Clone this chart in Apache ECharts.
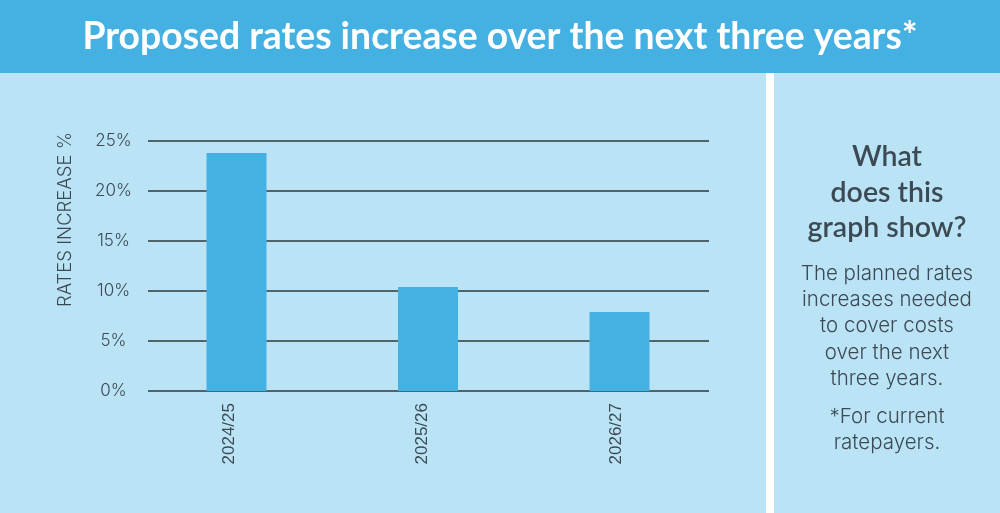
<!DOCTYPE html>
<html>
<head>
<meta charset="utf-8">
<style>
html, body { margin: 0; padding: 0; background: #ffffff; }
#main { width: 1000px; height: 513px; }
</style>
<script src="https://cdn.jsdelivr.net/npm/echarts@6/dist/echarts.min.js"></script>
</head>
<body>
<div id="main"></div>
<script>
var categories = ['2024/25', '2025/26', '2026/27'];
var ratesIncrease = [23.8, 10.4, 7.9];
var titleText = 'Proposed rates increase over the next three years*';
var yAxisName = 'RATES INCREASE %';
var sideHeading = ['What', 'does this', 'graph show?'];
var sideBody = ['The planned rates', 'increases needed', 'to cover costs', 'over the next', 'three years.'];
var sideNote = ['*For current', 'ratepayers.'];

var textColor = '#3c4a54';
var lineColor = '#2e3a3a';
var myChart = echarts.init(document.getElementById('main'));

// side panel lines, one text element each so line spacing follows the picture
var sideLines = [];
sideHeading.forEach(function (t, i) {
    sideLines.push({ type: 'text', x: 887, y: 157 + i * 35.5, style: { text: t, fill: textColor, font: '600 28.5px Lato', align: 'center', verticalAlign: 'middle' } });
});
sideBody.forEach(function (t, i) {
    sideLines.push({ type: 'text', x: 887, y: 273.5 + i * 26.3, style: { text: t, fill: textColor, font: '300 20.5px Inter', align: 'center', verticalAlign: 'middle' } });
});
sideNote.forEach(function (t, i) {
    sideLines.push({ type: 'text', x: 887, y: 416.5 + i * 26.5, style: { text: t, fill: textColor, font: '300 20.5px Inter', align: 'center', verticalAlign: 'middle' } });
});

var option = {
    animation: false,
    backgroundColor: '#ffffff',
    graphic: [
        { type: 'rect', z: -10, shape: { x: 0, y: 0, width: 1000, height: 73 }, style: { fill: '#45b1e3' } },
        { type: 'rect', z: -10, shape: { x: 0, y: 73, width: 766, height: 440 }, style: { fill: '#bae3f6' } },
        { type: 'rect', z: -10, shape: { x: 774, y: 73, width: 226, height: 440 }, style: { fill: '#bae3f6' } },
        { type: 'text', x: 500, y: 37, style: { text: titleText, fill: '#ffffff', font: '700 37.3px Lato', align: 'center', verticalAlign: 'middle' } },
        { type: 'text', x: 65, y: 219.5, rotation: Math.PI / 2, style: { text: yAxisName, fill: textColor, font: '300 18.5px Inter', align: 'center', verticalAlign: 'middle' } }
    ].concat(sideLines),
    // grid 0 = the bars, grid 1 = the rules and % labels (shorter than the bar bands), grid 2 = year labels (sit left of the bars)
    grid: [
        { left: 140.75, width: 574.5, top: 141, height: 250 },
        { left: 148, width: 561, top: 141, height: 250 },
        { left: 132.9, width: 579.75, top: 141, height: 250 }
    ],
    xAxis: [
        { type: 'category', gridIndex: 0, data: categories, axisLine: { show: false }, axisTick: { show: false }, axisLabel: { show: false } },
        { type: 'category', gridIndex: 1, data: categories, axisLine: { show: false }, axisTick: { show: false }, axisLabel: { show: false } },
        {
            type: 'category',
            gridIndex: 2,
            data: categories,
            axisLine: { show: false },
            axisTick: { show: false },
            axisLabel: { rotate: 90, color: textColor, fontFamily: 'Liberation Sans', fontSize: 17, margin: 12 }
        }
    ],
    yAxis: [
        { type: 'value', gridIndex: 0, min: 0, max: 25, interval: 5, show: false },
        {
            type: 'value',
            gridIndex: 1,
            min: 0,
            max: 25,
            interval: 5,
            axisLine: { show: false },
            axisTick: { show: false },
            axisLabel: {
                color: textColor, fontFamily: 'Inter', fontWeight: 300, fontSize: 17, margin: 34.5, align: 'center',
                formatter: function (v) { return v + '%'; }
            },
            splitLine: { show: true, lineStyle: { color: lineColor, width: 1.5 } }
        },
        { type: 'value', gridIndex: 2, min: 0, max: 25, interval: 5, show: false }
    ],
    series: [{
        type: 'bar',
        xAxisIndex: 0,
        yAxisIndex: 0,
        data: ratesIncrease,
        barWidth: 60,
        z: 3,
        itemStyle: { color: '#45b1e3' }
    }]
};

myChart.setOption(option);
</script>
</body>
</html>
